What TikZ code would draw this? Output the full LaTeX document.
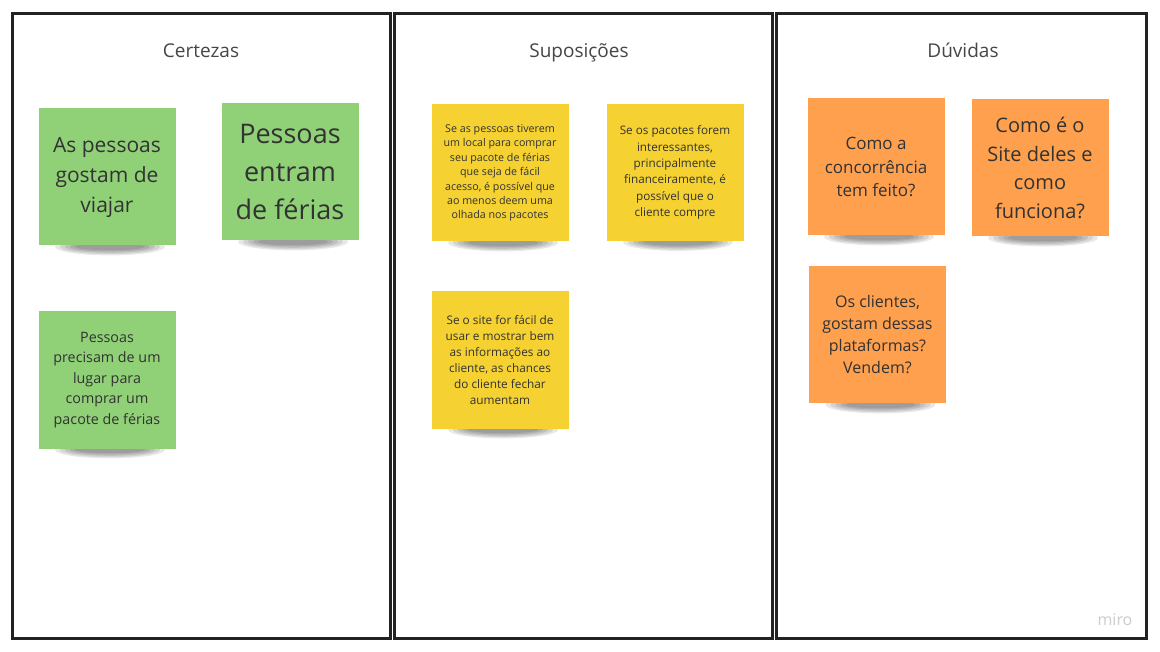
\documentclass[tikz,border=0pt]{standalone}
\usepackage{fontspec}
\setmainfont{Open Sans}
\usetikzlibrary{backgrounds}
\definecolor{notegreen}{RGB}{144,209,120}
\definecolor{noteyellow}{RGB}{245,210,50}
\definecolor{noteorange}{RGB}{254,160,78}
\definecolor{inkgray}{RGB}{50,50,50}
\definecolor{framegray}{RGB}{34,34,34}
\tikzset{
  column/.style={draw=framegray,line width=3pt},
  heading/.style={anchor=base,text=inkgray!90,font=\fontsize{19}{22}\selectfont},
  sticky/.style={rectangle,minimum width=137pt,minimum height=137pt,inner sep=0pt,
    text=inkgray,align=center},
  greennote/.style={sticky,fill=notegreen},
  yellownote/.style={sticky,fill=noteyellow},
  orangenote/.style={sticky,fill=noteorange},
  fs/.style 2 args={font=\fontsize{#1}{#2}\selectfont}
}

\begin{document}
\begin{tikzpicture}[x=1pt,y=-1pt]
  \useasboundingbox (0,0) rectangle (1160,652);

  % the three columns
  \draw[column] (12,14)  rectangle (390,638);
  \draw[column] (394,14) rectangle (772,638);
  \draw[column] (776,14) rectangle (1146,638);
  \node[heading] (certezas)   at (201,58) {Certezas};
  \node[heading] (suposicoes) at (579,58) {Suposições};
  \node[heading] (duvidas)    at (963,58) {Dúvidas};

  % Certezas
  \node[greennote,fs={21}{30}]     (cert1) at (107,177) {As pessoas\\gostam de\\viajar};
  \node[greennote,fs={27}{38}]     (cert2) at (290,172) {Pessoas\\entram\\de férias};
  \node[greennote,fs={14.3}{20.5}] (cert3) at (107,380) {Pessoas\\precisam de um\\lugar para\\comprar um\\pacote de férias};

  % Suposicoes
  \node[yellownote,fs={10.7}{14.4}] (sup1) at (500,173)
    {Se as pessoas tiverem\\um local para comprar\\seu pacote de férias\\que seja de fácil\\acesso, é possível que\\ao menos deem uma\\olhada nos pacotes};
  \node[yellownote,fs={11.7}{16.3}] (sup2) at (675,172.5)
    {Se os pacotes forem\\interessantes,\\principalmente\\financeiramente, é\\possível que o\\cliente compre};
  \node[yellownote,fs={11.8}{16}] (sup3) at (500,360)
    {Se o site for fácil de\\usar e mostrar bem\\as informações ao\\cliente, as chances\\do cliente fechar\\aumentam};

  % Duvidas
  \node[orangenote,fs={17}{23.5}] (duv1) at (876,167) {Como a\\concorrência\\tem feito?};
  \node[orangenote,fs={20}{28.5}] (duv2) at (1040,168) {Como é o\\Site deles e\\como\\funciona?};
  \node[orangenote,fs={16}{22}]   (duv3) at (877.5,335) {Os clientes,\\gostam dessas\\plataformas?\\Vendem?};

  \node[text=gray!40,font=\fontsize{16}{18}\selectfont] (miro) at (1115,620) {miro};

  % soft shadows under the notes
  \begin{scope}[on background layer]
    \fill[white] (0,0) rectangle (1160,652);
    \foreach \n in {cert1,cert2,cert3,sup1,sup2,sup3,duv1,duv2,duv3}{
      \foreach \k in {1,...,5}{
        \fill[black,opacity=0.09] ([xshift=3pt,yshift=-1pt]\n.south)
          ellipse ({60pt-5pt*\k} and {10pt-1.3pt*\k});
      }
    }
  \end{scope}
\end{tikzpicture}
\end{document}
